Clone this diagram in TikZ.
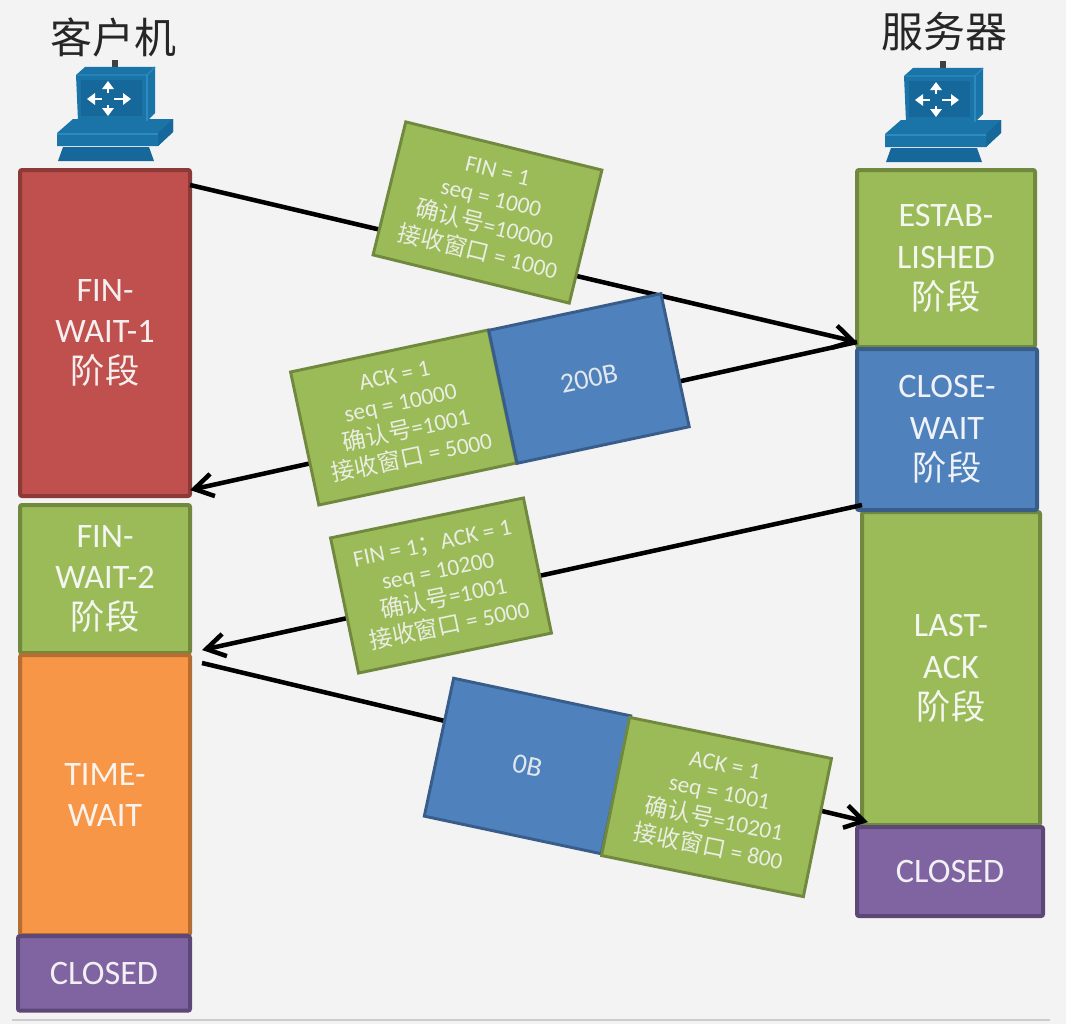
\documentclass[tikz,border=0pt]{standalone}
\usepackage{fontspec}
\setmainfont{Carlito}
\newfontfamily\cjk{Noto Sans CJK SC}
\usetikzlibrary{arrows.meta,calc}
\pgfdeclarelayer{back}\pgfdeclarelayer{states}\pgfdeclarelayer{conn}
\pgfsetlayers{back,states,conn,main}
\definecolor{bgc}{HTML}{F3F3F3}
\definecolor{gf}{HTML}{9BBB59}\definecolor{gd}{HTML}{71893F}
\definecolor{rf}{HTML}{C0504D}\definecolor{rd}{HTML}{8C3A38}
\definecolor{bf}{HTML}{4F81BD}\definecolor{bd}{HTML}{385D8A}
\definecolor{of}{HTML}{F79646}\definecolor{od}{HTML}{B66D31}
\definecolor{pf}{HTML}{8064A2}\definecolor{pd}{HTML}{5C4776}
\definecolor{ic}{HTML}{1B74A8}\definecolor{icd}{HTML}{17689A}\definecolor{icl}{HTML}{2C8ABF}
\newcommand{\zh}[1]{{\cjk #1}}
\tikzset{
  x=0.75pt,y=-0.75pt,
  state/.style={draw=#1,line width=3pt,rounded corners=1.5pt,inner sep=0pt,outer sep=0pt,anchor=north west,align=center,text=white!92!#1,
    font=\fontsize{25.7pt}{31pt}\selectfont},
  seg/.style={draw=#1,line width=2.2pt,inner sep=0pt,outer sep=0pt,align=center,text=white!85!#1,
    font=\fontsize{17.5pt}{21pt}\selectfont},
  conn/.style={line width=3.4pt,-{Straight Barb[length=14pt,width=17pt,line width=3.4pt]}},
  title/.style={inner sep=0pt,font=\cjk\fontsize{31.5pt}{36pt}\selectfont,text=black!85},
  whitearrow/.style={white,line width=2.2pt,-{Triangle[length=6pt,width=8.5pt]}},
  stateg/.style={state=gd,fill=gf},
  segg/.style={seg=gd,fill=gf},
  segb/.style={seg=bd,fill=bf,font=\fontsize{21pt}{25pt}\selectfont}
}
\newcommand{\iconpic}[2]{%
\begin{scope}[shift={(#1,#2)}]
  \fill[black!75] (112,60) rectangle (118,67);
  \fill[icd] (63,147) -- (149,147) -- (154,161) -- (58,161) -- cycle;
  \fill[ic] (73,119) -- (173,119) -- (173,132) -- (158,146) -- (57,146) -- (57,133) -- cycle;
  \fill[icl] (57,133) -- (158,133) -- (158,135) -- (57,135) -- cycle;
  \fill[icd] (158,133) -- (173,119) -- (173,132) -- (158,146) -- cycle;
  \fill[ic] (76,75) -- (85,67) -- (155,67) -- (155,113) -- (147,121) -- (78,121) -- cycle;
  \draw[icl,line width=1pt] (77,75) -- (147,75) -- (155,67);
  \draw[icl,line width=1pt] (147,75) -- (147,121);
  \fill[icd] (81,80) rectangle (142,116);
  \draw[whitearrow] (102,99) -- (87,99);
  \draw[whitearrow] (114,99) -- (131,99);
  \draw[whitearrow] (108,93) -- (108,81);
  \draw[whitearrow] (108,105) -- (108,116);
\end{scope}}
\begin{document}
\begin{tikzpicture}
\begin{pgfonlayer}{back}
\fill[bgc] (0,0) rectangle (1066,1024);
\end{pgfonlayer}
\useasboundingbox (0,0) rectangle (1066,1024);
\draw[black!20,line width=1.5pt] (12,1020) -- (1050,1020);

\node[title] (tc) at (113,37) {客户机};
\node[title] (ts) at (944,32) {服务器};
\iconpic{0}{0}
\iconpic{828}{1}

\begin{pgfonlayer}{states}
% client states
\node[state=rd,fill=rf,minimum width=127.5pt,minimum height=244.5pt] (fw1) at (20,170) {FIN-\\WAIT-1\\\zh{阶段}};
\node[stateg,minimum width=127.5pt,minimum height=111pt] (fw2) at (20,505) {FIN-\\WAIT-2\\\zh{阶段}};
\node[state=od,fill=of,minimum width=127.5pt,minimum height=210pt] (tw) at (20,655) {TIME-\\WAIT};
\node[state=pd,fill=pf,minimum width=129pt,minimum height=56pt] (cc) at (18,936) {CLOSED};
% server states
\node[stateg,minimum width=133.5pt,minimum height=132.75pt] (est) at (857,170) {ESTAB-\\LISHED\\\zh{阶段}};
\node[stateg,minimum width=133.5pt,minimum height=234.75pt] (la) at (862,512) {LAST-\\ACK\\\zh{阶段}};
\node[state=bd,fill=bf,minimum width=135pt,minimum height=120.75pt] (cw) at (857,349) {CLOSE-\\WAIT\\\zh{阶段}};
\node[state=pd,fill=pf,minimum width=139.5pt,minimum height=66.75pt] (cs) at (857,827) {CLOSED};
\end{pgfonlayer}

% segments
\node[segg,rotate=-13.8,minimum width=151.5pt,minimum height=102.75pt] (s1) at (487.5,212.5)
  {FIN = 1\\seq = 1000\\\zh{确认号}=10000\\\zh{接收窗口} = 1000};
\node[segg,rotate=12,minimum width=151.5pt,minimum height=102pt] (s2a) at (403.5,417.5)
  {ACK = 1\\seq = 10000\\\zh{确认号}=1001\\\zh{接收窗口} = 5000};
\node[segb,rotate=12,minimum width=132pt,minimum height=102pt] (s2b) at (589,378.5) {200B};
\node[segg,rotate=11.7,minimum width=147.75pt,minimum height=103.5pt] (s3) at (441,585.5)
  {FIN = 1\zh{；}ACK = 1\\seq = 10200\\\zh{确认号}=1001\\\zh{接收窗口} = 5000};
\node[segb,rotate=-12,minimum width=135.75pt,minimum height=105.75pt] (s4b) at (527.5,766) {0B};
\node[segg,rotate=-11.5,minimum width=154.5pt,minimum height=105.75pt] (s4a) at (716.5,807)
  {ACK = 1\\seq = 1001\\\zh{确认号}=10201\\\zh{接收窗口} = 800};

% connectors
\begin{pgfonlayer}{conn}
\draw[conn] ($(fw1.north east)+(0,15)$) -- ($(est.south west)+(0,-5)$);
\draw[conn] ($(est.south west)+(0,-5)$) -- ($(fw1.south east)+(0,-6)$);
\draw[conn] ($(cw.south west)+(5,-5)$) -- ($(fw2.south east)+(12,-3)$);
\draw[conn] ($(tw.north east)+(12,8)$) -- ($(la.south west)+(6,-3)$);
\end{pgfonlayer}
\end{tikzpicture}
\end{document}
